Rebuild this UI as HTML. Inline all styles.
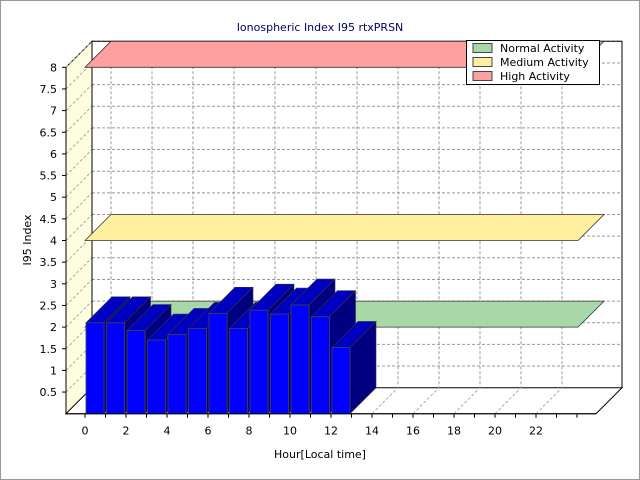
<!DOCTYPE html>
<html><head><meta charset="utf-8"><style>
body{margin:0;background:#fff}
svg{display:block;font-family:"DejaVu Sans","Liberation Sans",sans-serif}
</style></head><body>
<svg id="c" width="640" height="480" viewBox="0 0 640 480">
<rect x="0.5" y="0.5" width="639" height="479" fill="#fff" stroke="#999"/>
<text x="320" y="31" text-anchor="middle" font-size="11" fill="#000060">Ionospheric Index I95 rtxPRSN</text>
<g id="plot"></g>
<text x="320" y="458" text-anchor="middle" font-size="11" fill="#000">Hour[Local time]</text>
<text transform="translate(31,240) rotate(-90)" text-anchor="middle" font-size="11" fill="#000">I95 Index</text>
<g>
<rect x="466.5" y="40.5" width="133" height="44" fill="#fff" stroke="#000"/>
<g><rect x="473" y="43.5" width="19" height="9" fill="#a8d8a8" stroke="#444"/><text x="500" y="52" font-size="11">Normal Activity</text></g>
<g><rect x="473" y="57.5" width="19" height="9" fill="#fff0a0" stroke="#444"/><text x="500" y="66" font-size="11">Medium Activity</text></g>
<g><rect x="473" y="71.5" width="19" height="9" fill="#ffa0a0" stroke="#444"/><text x="500" y="80" font-size="11">High Activity</text></g>
</g>
</svg>
<script>
const hours=[0,1,2,3,4,5,6,7,8,9,10,11,12];
const values=[2.1,2.1,1.92,1.7,1.83,1.97,2.32,1.97,2.39,2.3,2.51,2.24,1.53];
const yTicks=[0.5,1,1.5,2,2.5,3,3.5,4,4.5,5,5.5,6,6.5,7,7.5,8];
const xTickLabels=[0,2,4,6,8,10,12,14,16,18,20,22];
const bandLevels=[2,4,8];
const bandColors=["#a8d8a8","#fff0a0","#ffa0a0"];
const bandNames=["band-normal","band-medium","band-high"];

const NS="http://www.w3.org/2000/svg";
const g=document.getElementById('plot');
const X0=85,XS=20.5,Y0=413.7,YS=43.3,DX=26,DY=-26,LEFT=66,RIGHT=596,BANDR=578;
const sx=h=>X0+h*XS, sy=v=>Y0-v*YS;
function el(t,a){const e=document.createElementNS(NS,t);for(const k in a)e.setAttribute(k,a[k]);g.appendChild(e);return e;}
const P=pts=>pts.map(p=>p.join(',')).join(' ');
let e=el('polygon',{points:P([[LEFT,sy(8)],[LEFT+DX,sy(8)+DY],[LEFT+DX,Y0+DY],[LEFT,Y0]]),fill:'#fffde0',stroke:'#000'});


e=el('polygon',{points:P([[LEFT,Y0],[LEFT+DX,Y0+DY],[RIGHT+DX,Y0+DY],[RIGHT,Y0]]),fill:'#fff',stroke:'#000'});


yTicks.forEach(v=>{const l=el('line',{x1:LEFT+DX,x2:RIGHT+DX,y1:sy(v)+DY,y2:sy(v)+DY,stroke:'#999','stroke-dasharray':'3,2'});


const d=el('line',{x1:LEFT,x2:LEFT+DX,y1:sy(v),y2:sy(v)+DY,stroke:'#aaa','stroke-dasharray':'3,2'});

});
xTickLabels.forEach(h=>{const l=el('line',{x1:sx(h)+DX,x2:sx(h)+DX,y1:sy(8)+DY,y2:Y0+DY,stroke:'#999','stroke-dasharray':'3,2'});


const d=el('line',{x1:sx(h),x2:sx(h)+DX,y1:Y0,y2:Y0+DY,stroke:'#aaa','stroke-dasharray':'3,2'});

});
e=el('polyline',{points:P([[LEFT+DX,Y0+DY],[LEFT+DX,sy(8)+DY],[RIGHT+DX,sy(8)+DY],[RIGHT+DX,Y0+DY]]),fill:'none',stroke:'#000'});


bandLevels.forEach((v,i)=>{const b=el('polygon',{points:P([[X0,sy(v)],[X0+DX,sy(v)+DY],[BANDR+DX,sy(v)+DY],[BANDR,sy(v)]]),fill:bandColors[i],stroke:'#333','stroke-width':0.8});

});
const BW=18;
hours.forEach((h,i)=>{const x=sx(h)+1,y=sy(values[i]),bd=Y0;
const side=el('polygon',{points:P([[x+BW,y],[x+BW+DX,y+DY],[x+BW+DX,bd+DY],[x+BW,bd]]),fill:'#000080',stroke:'#333','stroke-width':0.6});


const top=el('polygon',{points:P([[x,y],[x+DX,y+DY],[x+BW+DX,y+DY],[x+BW,y]]),fill:'#0000c0',stroke:'#333','stroke-width':0.6});


const f=el('rect',{x:x,y:y,width:BW,height:bd-y,fill:'#0000ff',stroke:'#444','stroke-width':0.8});

});
e=el('line',{x1:LEFT,x2:LEFT,y1:sy(8),y2:Y0,stroke:'#000'});


e=el('line',{x1:LEFT,x2:RIGHT,y1:Y0,y2:Y0,stroke:'#000'});


yTicks.forEach(v=>{const t=el('line',{x1:LEFT-4,x2:LEFT,y1:sy(v),y2:sy(v),stroke:'#000'});


const tx=el('text',{x:LEFT-9,y:sy(v)+4,'text-anchor':'end','font-size':11});tx.textContent=v;

});
for(let h=0;h<25;h++){const t=el('line',{x1:sx(h),x2:sx(h),y1:Y0,y2:Y0+4,stroke:'#000'});

}
xTickLabels.forEach(h=>{const tx=el('text',{x:sx(h),y:Y0+21,'text-anchor':'middle','font-size':11});tx.textContent=h;

});
</script>
</body></html>
